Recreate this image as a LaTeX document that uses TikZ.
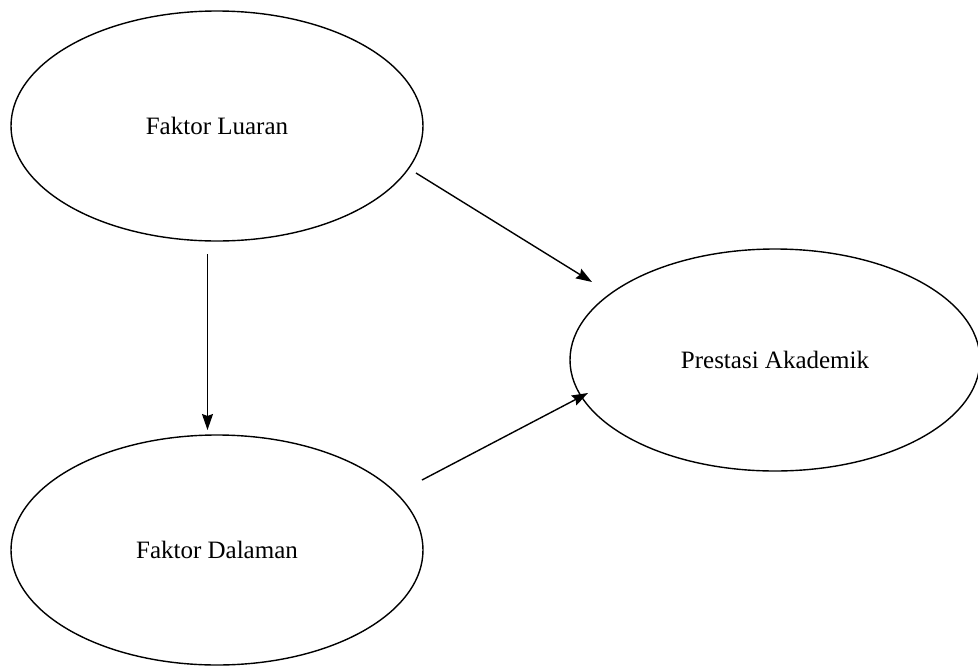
\documentclass[tikz,border=0pt]{standalone}
\usepackage{fontspec}
\setmainfont{Liberation Serif}
\usetikzlibrary{shapes.geometric,arrows.meta}
\begin{document}
\begin{tikzpicture}[x=1pt,y=-1pt,
  oval/.style={ellipse,draw,line width=1.4pt,inner sep=0pt,font=\fontsize{25}{30}\selectfont},
  arr/.style={line width=1.4pt,-{Stealth[length=16pt,width=11pt,inset=2pt]}}]
\useasboundingbox (0,0) rectangle (978,665);
\node[oval,minimum width=412pt,minimum height=230pt] (lu) at (217,126) {Faktor Luaran};
\node[oval,minimum width=412pt,minimum height=230pt] (da) at (217,550) {Faktor Dalaman};
\node[oval,minimum width=410pt,minimum height=222pt] (pa) at (775,360) {Prestasi Akademik};
\coordinate (s1) at ([shift={(-9.5,128)}]lu.center);
\coordinate (t1) at ([shift={(-9.5,-120)}]da.center);
\coordinate (s2) at ([shift={(199,47)}]lu.center);
\coordinate (t2) at ([shift={(-183,-78)}]pa.center);
\coordinate (s3) at ([shift={(205,-70)}]da.center);
\coordinate (t3) at ([shift={(-187,33)}]pa.center);
\draw[arr] (s1) -- (t1);
\draw[arr] (s2) -- (t2);
\draw[arr] (s3) -- (t3);
\end{tikzpicture}
\end{document}
